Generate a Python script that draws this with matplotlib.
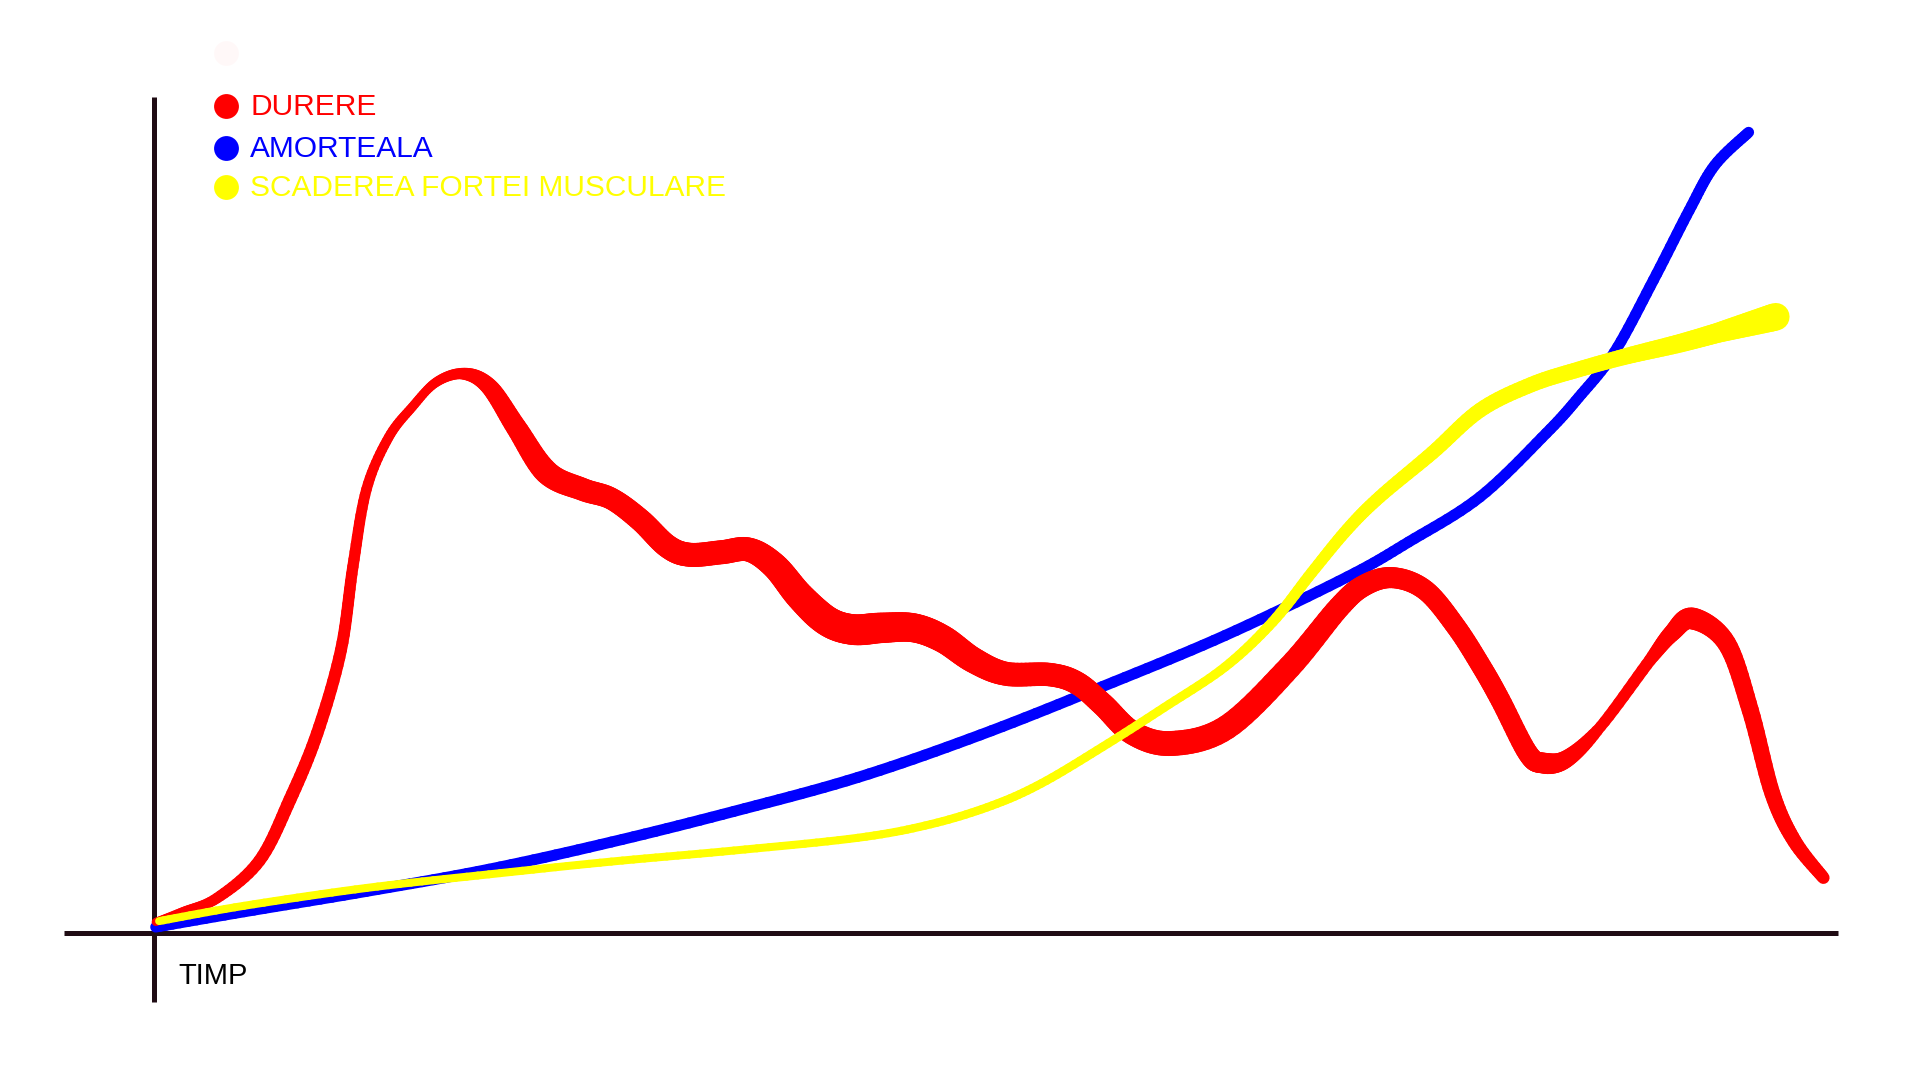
#!/usr/bin/env python3

import numpy as np
import matplotlib
matplotlib.use("Agg")
import matplotlib.pyplot as plt
from matplotlib.collections import LineCollection

# values: x = time (0..100), y = intensity (0..100)
durere_x = [0.1, 1.7, 3.7, 6.2, 8.0, 9.6, 11.0, 11.7, 12.5, 13.8, 15.2, 16.6,
            18.2, 19.7, 21.3, 23.1, 25.2, 26.9, 28.6, 30.2, 31.5, 33.4, 35.0,
            36.5, 38.0, 39.6, 41.1, 42.8, 44.7, 46.4, 48.2, 50.1, 52.7, 54.3,
            55.8, 57.6, 59.9, 63.1, 66.8, 69.7, 71.2, 72.9, 74.8, 76.6, 78.1,
            79.2, 80.8, 81.7, 83.1, 85.1, 88.0, 89.3, 90.5, 92.5, 93.9, 95.2,
            96.5, 98.2]
durere_y = [1.3, 2.5, 4.1, 8.5, 15.7, 23.5, 33.3, 43.1, 52.2, 58.3, 61.9, 64.8,
            65.8, 64.3, 59.5, 54.2, 52.2, 51.1, 48.6, 45.5, 44.5, 44.8, 45.1,
            43.2, 39.6, 36.7, 35.7, 35.9, 35.9, 34.6, 32.1, 30.5, 30.4, 29.4,
            26.9, 23.5, 22.3, 24.2, 31.3, 38.3, 40.9, 41.8, 40.3, 36.0, 31.3,
            27.4, 21.2, 20.0, 20.5, 24.3, 32.1, 35.3, 37.0, 34.1, 26.2, 16.4,
            10.8, 6.5]

amorteala_x = [0.1, 5.3, 12.5, 19.7, 26.9, 34.1, 41.4, 48.6, 55.8, 63.0, 70.2,
               73.8, 78.0, 81.9, 83.8, 85.9, 88.2, 90.3, 91.8, 93.8]
amorteala_y = [0.7, 2.5, 4.9, 7.5, 10.7, 14.3, 18.3, 23.3, 29.0, 35.0, 41.9,
               46.0, 51.3, 58.8, 63.0, 68.3, 76.8, 85.0, 90.3, 94.2]

forta_x = [0.3, 5.3, 12.5, 19.7, 26.9, 34.1, 41.4, 45.7, 49.3, 52.2, 55.8, 59.4,
           63.0, 65.8, 68.1, 70.2, 72.1, 75.2, 78.0, 81.0, 83.8, 86.7, 89.8,
           92.5, 95.4]
forta_y = [1.4, 3.2, 5.3, 6.9, 8.4, 9.7, 11.2, 12.8, 15.0, 17.6, 21.9, 26.5,
           31.3, 36.6, 42.4, 47.5, 51.3, 56.5, 61.5, 64.5, 66.3, 67.9, 69.4,
           70.9, 72.5]

labels = ["DURERE", "AMORTEALA", "SCADEREA FORTEI MUSCULARE"]
colors = ["#ff0000", "#0000ff", "#ffff00"]
axis_label = "TIMP"

# pixel layout of the 1920x1080 canvas
W, H = 1920, 1080
OX, OY = 154, 933          # where the two axes cross
PX_X, PX_Y = 17.0, 8.5     # pixels per data unit
AXIS_COLOR = "#200c14"


def band(ax, x, y, prof_x, prof_w, color, z, cap="round"):
    """Smooth stroke through the points (cubic piece per gap, drawn as a
    fine polyline) with a width in pixels that changes along x."""
    p = np.column_stack([x, y]).astype(float)
    n = len(p)
    t = np.linspace(0, 1, 12)[:, None]
    parts = []
    for i in range(n - 1):
        p0 = p[max(i - 1, 0)]
        p1, p2 = p[i], p[i + 1]
        p3 = p[min(i + 2, n - 1)]
        c1 = p1 + (p2 - p0) / 6
        c2 = p2 - (p3 - p1) / 6
        pts = ((1 - t) ** 3 * p1 + 3 * (1 - t) ** 2 * t * c1
               + 3 * (1 - t) * t ** 2 * c2 + t ** 3 * p2)
        parts.append(pts if i == 0 else pts[1:])
    pts = np.vstack(parts)
    segs = np.stack([pts[:-1], pts[1:]], axis=1)
    mid = (pts[:-1, 0] + pts[1:, 0]) / 2
    lw = np.interp(mid, prof_x, prof_w) * 72 / 100
    ax.add_collection(LineCollection(segs, colors=color, linewidths=lw,
                                     capstyle=cap, joinstyle="round",
                                     zorder=z))


fig = plt.figure(figsize=(W / 100, H / 100), dpi=100)
ax = fig.add_axes([0, 0, 1, 1])
ax.set_xlim(-OX / PX_X, (W - OX) / PX_X)
ax.set_ylim(-(H - OY) / PX_Y, OY / PX_Y)
ax.axis("off")

# axes lines
ax.plot([(64 - OX) / PX_X, (1838 - OX) / PX_X], [0, 0],
        color=AXIS_COLOR, lw=3.6, solid_capstyle="butt", zorder=1)
ax.plot([0, 0], [(OY - 1002) / PX_Y, (OY - 97) / PX_Y],
        color=AXIS_COLOR, lw=3.6, solid_capstyle="butt", zorder=1)

# curves
band(ax, amorteala_x, amorteala_y, [0, 100], [11, 11], colors[1], 2)
band(ax, durere_x, durere_y,
     [0, 4, 8, 11, 13, 16, 18, 20, 23, 27, 31, 35, 39, 42, 46, 50, 55, 60,
      66, 70, 73, 77, 80, 82, 85, 88, 90.5, 93, 96, 98.5],
     [8, 11, 13, 12, 10, 9, 11, 18, 24, 22, 24, 24, 30, 31, 28, 24, 23, 25,
      24, 22, 21, 20, 20, 21, 11, 12, 22, 18, 15, 12],
     colors[0], 3)
band(ax, forta_x, forta_y,
     [0, 40, 62, 70, 78, 86, 92, 95.5],
     [8, 8, 9, 12, 15, 16, 20, 28],
     colors[2], 4)

# legend drawn by hand
leg_y = [106, 148, 187]
ax.scatter([226 / W], [1 - 53 / H], s=320, color="#ffb0b0", alpha=0.08,
           lw=0, transform=ax.transAxes, zorder=5)
for lab, col, py in zip(labels, colors, leg_y):
    ax.scatter([226 / W], [1 - py / H], s=320, color=col, lw=0,
               transform=ax.transAxes, zorder=5)
    ax.text(250 / W, 1 - (py + 1) / H, lab, color=col, fontsize=21.5,
            family="Liberation Sans", va="center", ha="left",
            transform=ax.transAxes, zorder=5)

ax.text(178 / W, 1 - 976 / H, axis_label, color="black", fontsize=21,
        family="Liberation Sans", va="center", ha="left",
        transform=ax.transAxes)

fig.savefig("out.png", dpi=100, facecolor="white")
